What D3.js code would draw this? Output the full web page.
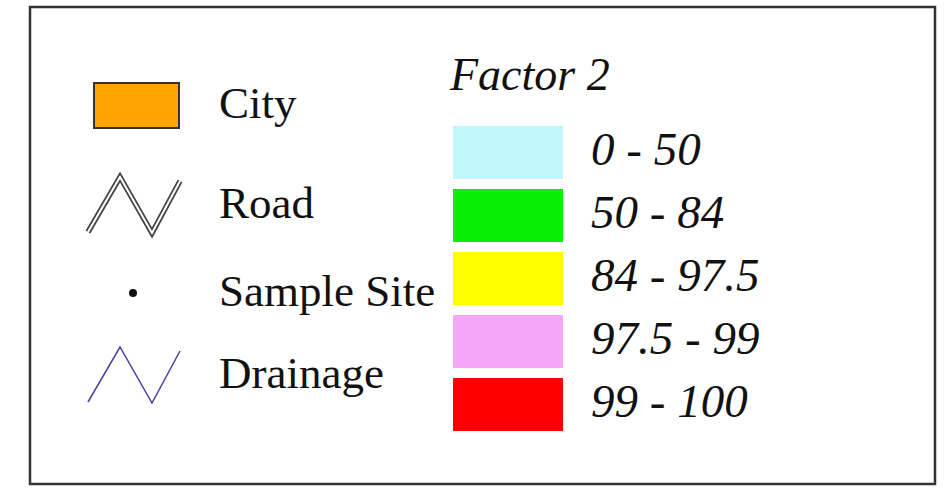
<!DOCTYPE html>
<meta charset="utf-8">
<style>
body { margin: 0; background: #fff; }
text { font-family: "Liberation Serif", "Times New Roman", serif; fill: #111; }
.range { font-style: italic; }
</style>
<body>
<script src="https://cdn.jsdelivr.net/npm/d3@7"></script>
<script>

// legend content
var mapItems = ["City", "Road", "Sample Site", "Drainage"];
var factorTitle = "Factor 2";
var classLabels = ["0 - 50", "50 - 84", "84 - 97.5", "97.5 - 99", "99 - 100"];
var classColors = ["#c0f7fb", "#06f006", "#ffff00", "#f5a6f7", "#ff0000"];

var width = 944, height = 488;

var svg = d3.select("body").append("svg")
    .attr("width", width)
    .attr("height", height);

// frame
svg.append("rect")
    .attr("x", 30).attr("y", 7)
    .attr("width", 905).attr("height", 477)
    .style("fill", "#fff")
    .style("stroke", "#333")
    .style("stroke-width", 2.5);

// left column: symbol centre for each item
var rowY = d3.scaleOrdinal().domain(mapItems).range([105, 205, 293, 375]);
var symX = 134, textX = 219;

// zigzag used for road and drainage, relative to symbol centre
var zig = d3.line()
    .x(function(d) { return d[0]; })
    .y(function(d) { return d[1]; });
var zigPts = [[-46, 27], [-14, -28], [18, 28], [46, -24]];

var g = svg.append("g");

// City
g.append("rect")
    .attr("x", 94).attr("y", rowY("City") - 22)
    .attr("width", 85).attr("height", 45)
    .style("fill", "#ffa500")
    .style("stroke", "#333")
    .style("stroke-width", 2);

// Road (double line)
var road = g.append("g").attr("transform", "translate(" + symX + "," + rowY("Road") + ")");
road.append("path").attr("d", zig(zigPts))
    .style("fill", "none").style("stroke", "#444").style("stroke-width", 5.5);
road.append("path").attr("d", zig(zigPts))
    .style("fill", "none").style("stroke", "#fff").style("stroke-width", 2);

// Sample Site
g.append("circle")
    .attr("cx", symX - 1).attr("cy", rowY("Sample Site"))
    .attr("r", 4)
    .style("fill", "#111");

// Drainage
g.append("path")
    .attr("transform", "translate(" + symX + "," + rowY("Drainage") + ")")
    .attr("d", zig(zigPts))
    .style("fill", "none").style("stroke", "#4b3f9e").style("stroke-width", 1.5);

g.selectAll("text.item")
    .data(mapItems)
  .enter().append("text")
    .attr("class", "item")
    .attr("x", textX)
    .attr("y", function(d) { return rowY(d) + 13; })
    .style("font-size", "45px")
    .text(function(d) { return d; });

// right column: Factor 2 classes
svg.append("text")
    .attr("class", "range")
    .attr("x", 450).attr("y", 90)
    .style("font-size", "46px")
    .text(factorTitle);

var y = d3.scaleBand()
    .domain(classLabels)
    .range([126, 431])
    .paddingInner(10 / 63);

var color = d3.scaleOrdinal().domain(classLabels).range(classColors);

var rows = svg.append("g").selectAll("g")
    .data(classLabels)
  .enter().append("g");

rows.append("rect")
    .attr("x", 453)
    .attr("y", function(d) { return y(d); })
    .attr("width", 110)
    .attr("height", y.bandwidth())
    .style("fill", function(d) { return color(d); });

rows.append("text")
    .attr("class", "range")
    .attr("x", 591)
    .attr("y", function(d) { return y(d) + y.bandwidth() / 2 + 12; })
    .style("font-size", "47px")
    .text(function(d) { return d; });

</script>
</body>
